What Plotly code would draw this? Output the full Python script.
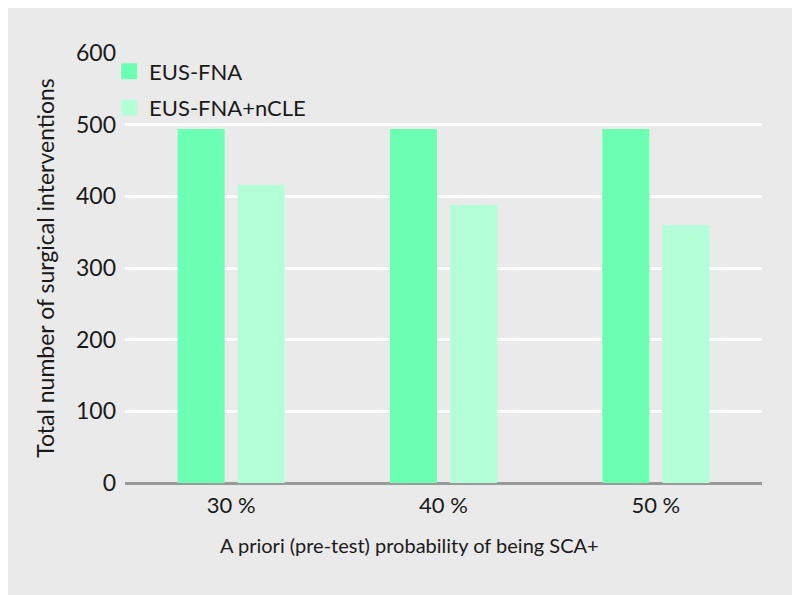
import plotly.graph_objects as go

# values
categories = ['30 %', '40 %', '50 %']
eus_fna = [494, 494, 494]
eus_fna_ncle = [416, 388, 360]
series_names = ['EUS-FNA', 'EUS-FNA+nCLE']
series_colors = ['#6bffb4', '#b3ffd8']
y_ticks = [0, 100, 200, 300, 400, 500, 600]

fig = go.Figure()
for name, vals, col in zip(series_names, [eus_fna, eus_fna_ncle], series_colors):
    fig.add_trace(go.Bar(x=categories, y=vals, name=name, marker_color=col,
                         marker_line_width=0, showlegend=False))
    # legend entry with a bigger square
    fig.add_trace(go.Scatter(x=[None], y=[None], mode='markers', name=name,
                             legendgroup=name,
                             marker=dict(symbol='square', size=20, color=col)))

# page body adds ~8px offset, margins compensate for it
fig.update_layout(
    width=800, height=595,
    paper_bgcolor='#eaeaea', plot_bgcolor='#eaeaea',
    font=dict(family='Lato', size=21, color='#1a1a1a'),
    margin=dict(l=117, r=46, t=45, b=120),
    barmode='group', bargap=0.434, bargroupgap=0.217,
    legend=dict(x=-0.025, y=1.006, xanchor='left', yanchor='top',
                bgcolor='rgba(0,0,0,0)', tracegroupgap=5,
                itemsizing='trace', font=dict(size=22)),
)
fig.update_yaxes(range=[0, 600], tickvals=y_ticks, showgrid=True,
                 gridcolor='white', gridwidth=3, zeroline=True,
                 zerolinecolor='#999999', zerolinewidth=3,
                 ticks='', ticklabelstandoff=8, tickfont=dict(size=23),
                 title=dict(text='Total number of surgical interventions',
                            font=dict(size=23), standoff=14))
fig.update_xaxes(showgrid=False, ticks='', tickfont=dict(size=22),
                 ticklabelstandoff=7)

# x title sits a bit left of the plot centre in the original
fig.add_annotation(text='A priori (pre-test) probability of being SCA+',
                   xref='paper', yref='paper', x=0.447, y=-0.145,
                   xanchor='center', yanchor='middle', showarrow=False,
                   font=dict(size=20))

fig.write_html("out.html")
